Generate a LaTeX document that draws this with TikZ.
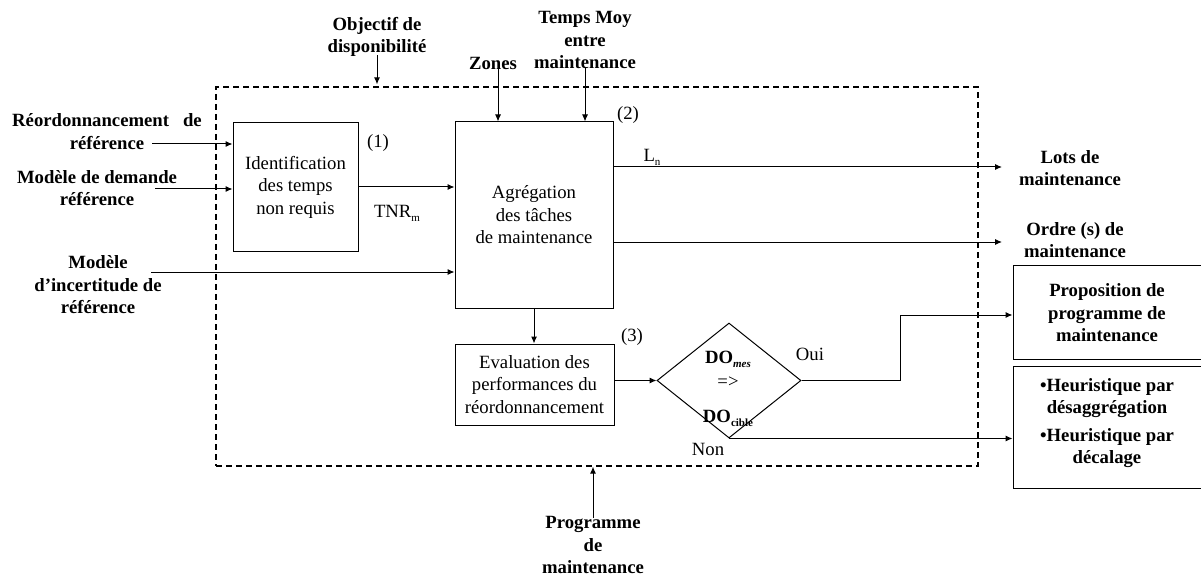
\documentclass[tikz,border=0pt]{standalone}
\usepackage{fontspec}
\setmainfont{Liberation Serif}
\usetikzlibrary{shapes.geometric,arrows.meta}
\newcommand{\indice}[1]{\raisebox{-4pt}{\fontsize{11}{12}\selectfont #1}}

\begin{document}
\begin{tikzpicture}[x=1pt, y=-1pt,
    every node/.style={font=\fontsize{18.7}{22.5}\selectfont, align=center, inner sep=0pt},
    bloc/.style={draw, line width=1pt},
    entree/.style={font=\fontsize{18.7}{22.5}\selectfont\bfseries},
    fleche/.style={-{Latex[length=7pt,width=6pt]}, line width=1pt},
    cadre/.style={draw, dash pattern=on 6pt off 4pt, line width=1.3pt}]

    \useasboundingbox (0,0) rectangle (1201,580);

    % Node definitions
    \node (zone) at (597,276.5) [cadre, minimum width=762pt, minimum height=379pt] {};
    \node (ident) at (295.5,187) [bloc, minimum width=125pt, minimum height=128pt] {Identification\\des temps\\non requis};
    \node (agreg) at (534,215) [bloc, minimum width=158pt, minimum height=186pt] {Agrégation\\des tâches\\de maintenance};
    \node (eval) at (534.5,384.5) [bloc, minimum width=159pt, minimum height=81pt] {Evaluation des\\performances du\\réordonnancement};
    \node (test) at (729,380.5) [draw, diamond, line width=1pt, minimum width=144pt, minimum height=115pt] {};
    \node (prop) at (1109,312) [bloc, minimum width=192pt, minimum height=94pt] {};
    \node (heur) at (1109,427) [bloc, minimum width=192pt, minimum height=122pt] {};

    % Labels
    \node (objectif) at (377,37) [entree] {Objectif de\\disponibilité};
    \node (zones) at (493,63) [entree] {Zones};
    \node (temps) at (585,40) [entree] {Temps Moy\\entre\\maintenance};
    \node (reord) at (107,131.5) [entree] {Réordonnancement\hspace{14pt}de\\référence};
    \node (demande) at (97,188) [entree] {Modèle de demande\\référence};
    \node (incert) at (98,285) [entree] {Modèle\\d’incertitude de\\référence};
    \node (lots) at (1070,168) [entree] {Lots de\\maintenance};
    \node (ordres) at (1075,240) [entree] {Ordre (s) de\\maintenance};
    \node (proptxt) at (1107,313) [entree] {Proposition de\\programme de\\maintenance};
    \node (heurtxt) at (1107,423) [entree] {\textbullet Heuristique par\\désaggrégation\\[5pt]\textbullet Heuristique par\\décalage};
    \node (prog) at (593,545) [entree] {Programme\\de\\maintenance};
    \node (n1) at (378,143) {(1)};
    \node (n2) at (628,115) {(2)};
    \node (n3) at (632,337) {(3)};
    \node (tnr) at (397,213) {TNR\indice{m}};
    \node (ln) at (652,157) {L\indice{n}};
    \node (domes) at (728,359) {\textbf{DO}\indice{\textbf{\textit{mes}}}};
    \node (sup) at (728,382) {=>};
    \node (docible) at (728,418) {\textbf{DO}\indice{\textbf{cible}}};
    \node (oui) at (810,354) {Oui};
    \node (non) at (708,449) {Non};

    % Free ends
    \coordinate (e1) at (152,144);
    \coordinate (e2) at (155,189);
    \coordinate (e3) at (151,272);
    \coordinate (s1) at (1002,167);
    \coordinate (s2) at (1002,242);
    \coordinate (coude) at (900,315);

    % Edge definitions
    \draw[fleche] ([yshift=2pt]objectif.south) -- ([yshift=2pt]objectif.south |- zone.north);
    \draw[fleche] ([xshift=5pt,yshift=2pt]zones.south) -- ([xshift=5pt]zones.south |- agreg.north);
    \draw[fleche] ([yshift=2pt]temps.south) -- (temps.south |- agreg.north);
    \draw[fleche] (e1) -- (e1 -| ident.west);
    \draw[fleche] (e2) -- (e2 -| ident.west);
    \draw[fleche] (e3) -- (e3 -| agreg.west);
    \draw[fleche] (ident.east) -- (ident.east -| agreg.west);
    \draw[fleche] (s1 -| agreg.east) -- (s1);
    \draw[fleche] (s2 -| agreg.east) -- (s2);
    \draw[fleche] (agreg.south) -- (agreg.south |- eval.north);
    \draw[fleche] (eval.east |- test.west) -- (test.west);
    \draw[fleche] (test.east) -| (coude) -- (coude -| prop.west);
    \draw[fleche] (test.south) -- (test.south -| heur.west);
    \draw[fleche] ([yshift=-2pt]prog.north) -- (prog.north |- zone.south);
\end{tikzpicture}
\end{document}
